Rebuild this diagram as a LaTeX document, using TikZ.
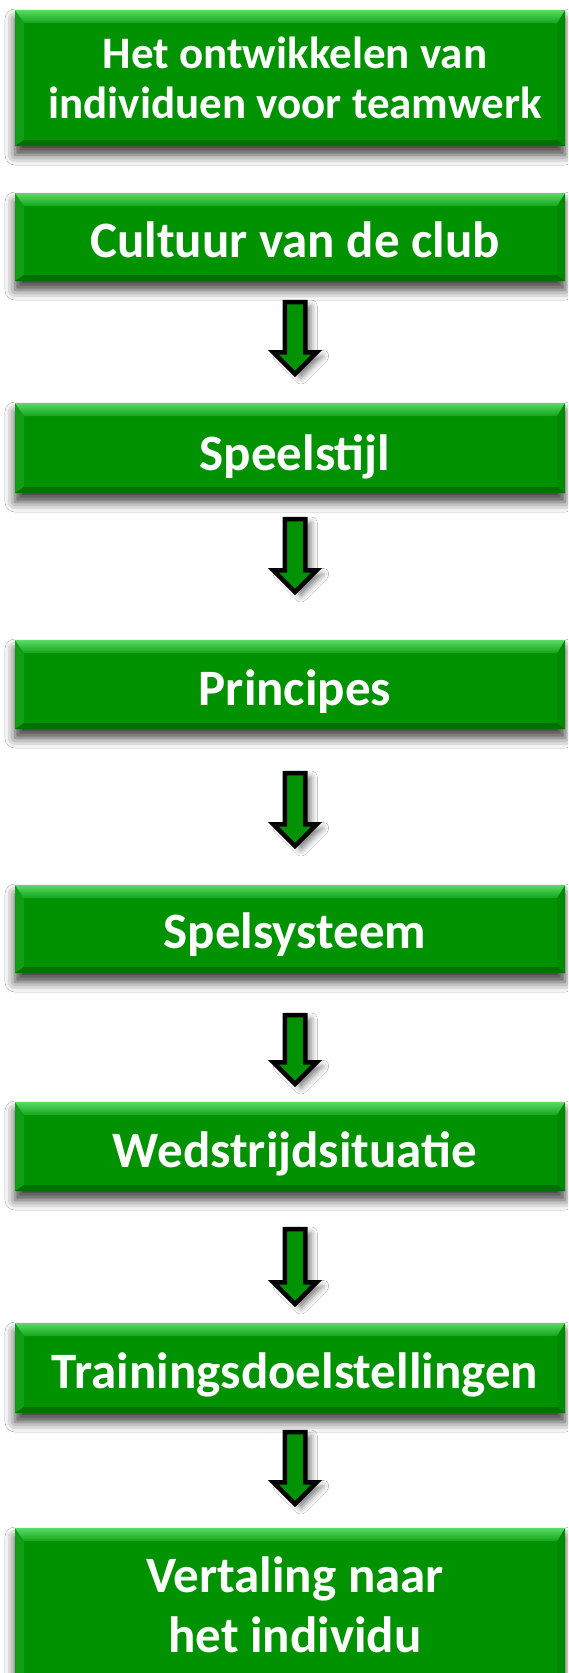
\documentclass[tikz,border=0pt]{standalone}
\usepackage{fontspec}
\setmainfont{Carlito}
\usetikzlibrary{calc,shadows.blur}
\definecolor{boxgreen}{RGB}{0,146,0}
\definecolor{bevtop}{RGB}{90,218,102}
\definecolor{bevlow}{RGB}{20,165,28}
\definecolor{bevleft}{RGB}{16,158,20}
\definecolor{bevright}{RGB}{0,138,0}
\definecolor{bevbottom}{RGB}{0,112,0}
\tikzset{
  flowbox/.style={rectangle, fill=boxgreen, minimum width=550pt, inner sep=0pt, outer sep=0pt,
    blur shadow={shadow xshift=0pt, shadow yshift=-9pt, shadow blur radius=10pt, shadow opacity=75},
    path picture={
      \path (path picture bounding box.north west) coordinate (pnw)
            (path picture bounding box.south east) coordinate (pse);
      \fill[bevleft] let \p1=(pnw), \p2=(pse) in
        (\x1,\y1) -- (\x1+9pt,\y1-13pt) -- (\x1+9pt,\y2+6pt) -- (\x1,\y2) -- cycle;
      \fill[bevright] let \p1=(pnw), \p2=(pse) in
        (\x2,\y1) -- (\x2-8pt,\y1-13pt) -- (\x2-8pt,\y2+6pt) -- (\x2,\y2) -- cycle;
      \fill[bevbottom] let \p1=(pnw), \p2=(pse) in
        (\x1,\y2) -- (\x1+9pt,\y2+6pt) -- (\x2-8pt,\y2+6pt) -- (\x2,\y2) -- cycle;
      \shade[top color=bevtop, bottom color=bevlow] let \p1=(pnw), \p2=(pse) in
        (\x1,\y1) -- (\x2,\y1) -- (\x2-8pt,\y1-13pt) -- (\x1+9pt,\y1-13pt) -- cycle;
    }},
  boxtext/.style={text=white, font=\bfseries\fontsize{51}{61}\selectfont, anchor=base, inner sep=0pt},
  smalltext/.style={boxtext, font=\bfseries\fontsize{45}{52}\selectfont},
  blockarrow/.style={draw=black, fill=boxgreen, line width=4.5pt, line join=miter,
    blur shadow={shadow xshift=6pt, shadow yshift=-4pt, shadow blur radius=6pt, shadow opacity=50}}
}
\newcommand\blockdown[2]{%
  \draw[blockarrow] let \p1=(#1), \p2=(#2) in
    (\x1-10.25pt,\y1) -- (\x1+10.25pt,\y1) -- (\x1+10.25pt,\y2+21.75pt) -- (\x1+21.75pt,\y2+21.75pt)
    -- (\x1,\y2) -- (\x1-21.75pt,\y2+21.75pt) -- (\x1-10.25pt,\y2+21.75pt) -- cycle;}
\begin{document}
\begin{tikzpicture}[x=1pt,y=-1pt]
\useasboundingbox (0,0) rectangle (568,1673);
\clip (0,0) rectangle (568,1673);
\fill[white] (0,0) rectangle (568,1673);

% boxes
\node[flowbox, minimum height=136pt] (b1) at (290,78) {};
\node[flowbox, minimum height=88pt] (b2) at (290,237) {};
\node[flowbox, minimum height=90pt] (b3) at (290,448) {};
\node[flowbox, minimum height=89pt] (b4) at (290,684.5) {};
\node[flowbox, minimum height=88pt] (b5) at (290,929) {};
\node[flowbox, minimum height=89pt] (b6) at (290,1146.5) {};
\node[flowbox, minimum height=90pt] (b7) at (290,1368) {};
\node[flowbox, minimum height=172pt] (b8) at (290,1614) {};

% texts
\node[smalltext] (t1a) at (295,68) {Het ontwikkelen van};
\node[smalltext] (t1b) at (295,118) {individuen voor teamwerk};
\node[boxtext] (t2) at (295,257) {Cultuur van de club};
\node[boxtext] (t3) at (295,470) {Speelstijl};
\node[boxtext] (t4) at (295,705) {Principes};
\node[boxtext] (t5) at (295,948) {Spelsysteem};
\node[boxtext] (t6) at (295,1167) {Wedstrijdsituatie};
\node[boxtext] (t7) at (295,1388) {Trainingsdoelstellingen};
\node[boxtext] (t8a) at (295,1592) {Vertaling naar};
\node[boxtext] (t8b) at (295,1652) {het individu};

% arrows
\coordinate (a1s) at (295,302);  \coordinate (a1e) at (295,374);
\coordinate (a2s) at (295,519);  \coordinate (a2e) at (295,592);
\coordinate (a3s) at (295,773);  \coordinate (a3e) at (295,846);
\coordinate (a4s) at (295,1015); \coordinate (a4e) at (295,1084);
\coordinate (a5s) at (295,1229); \coordinate (a5e) at (295,1304);
\coordinate (a6s) at (295,1432); \coordinate (a6e) at (295,1504);
\blockdown{a1s}{a1e}
\blockdown{a2s}{a2e}
\blockdown{a3s}{a3e}
\blockdown{a4s}{a4e}
\blockdown{a5s}{a5e}
\blockdown{a6s}{a6e}
\end{tikzpicture}
\end{document}
